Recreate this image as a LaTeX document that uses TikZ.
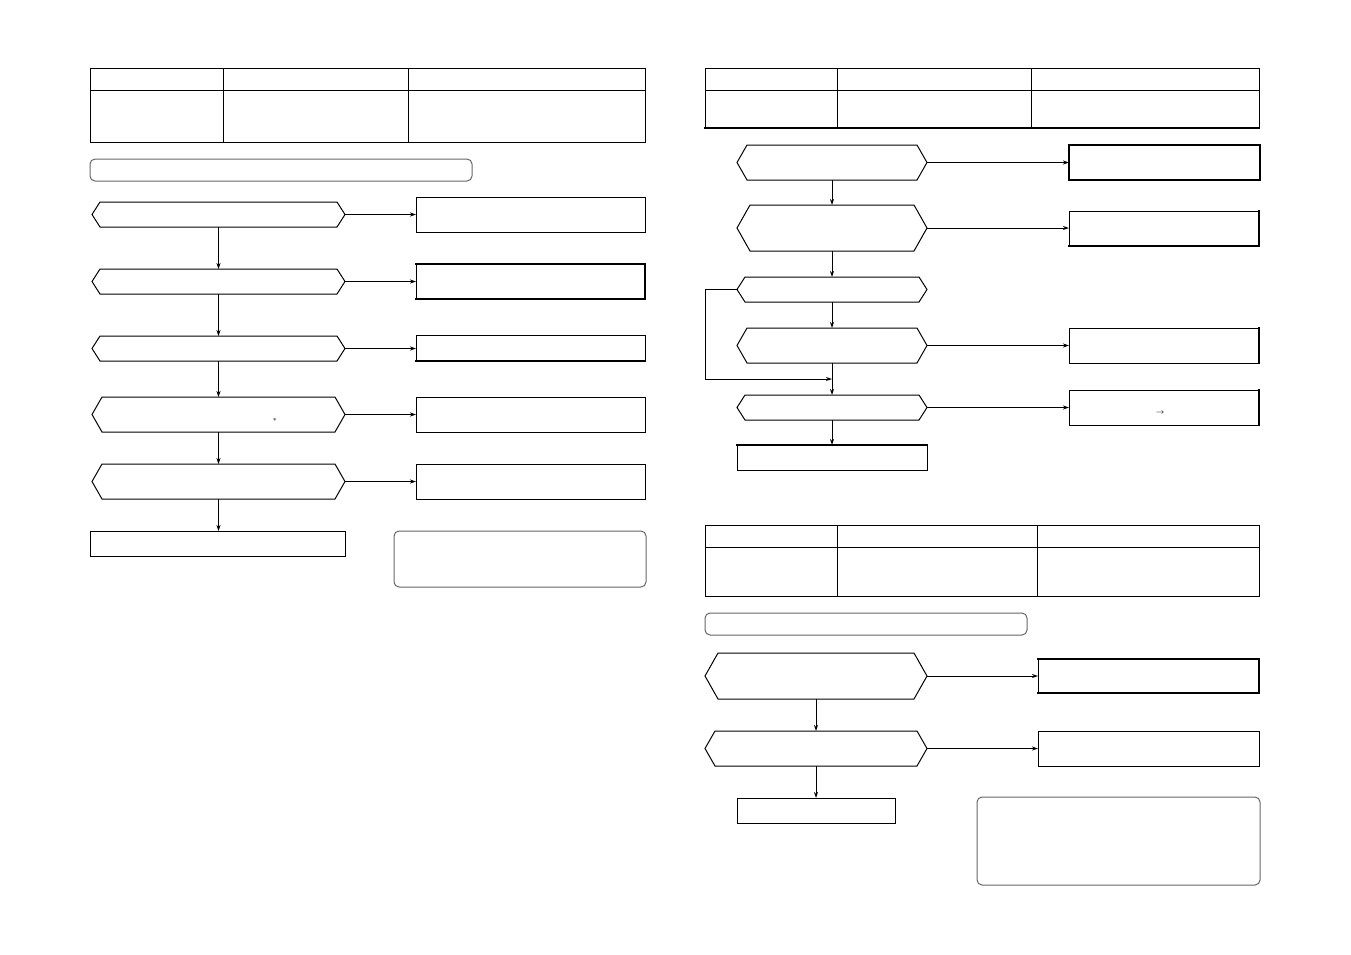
\documentclass[tikz,border=0pt]{standalone}
\usetikzlibrary{arrows.meta}
\newcommand{\rbox}[6]{\node[box,#6,minimum width={(#4-#2)*1pt},minimum height={(#5-#3)*1pt}] (#1) at ({(#2+#4)/2},{(#3+#5)/2}) {};}
\newcommand{\hexbox}[6]{%
  \node[inner sep=0pt,outer sep=0pt,minimum width={(#4-#2)*1pt},minimum height={(#5-#3)*1pt}] (#1) at ({(#2+#4)/2},{(#3+#5)/2}) {};
  \draw[ln] (#1.west) -- ([xshift=#6pt]#1.north west) -- ([xshift=-#6pt]#1.north east) -- (#1.east) -- ([xshift=-#6pt]#1.south east) -- ([xshift=#6pt]#1.south west) -- cycle;}
\begin{document}
\begin{tikzpicture}[x=1pt,y=-1pt,
  ln/.style={line width=1pt,line join=miter},
  arr/.style={line width=1pt,-{Stealth[length=6pt,width=4pt]}},
  box/.style={draw,line width=1pt,inner sep=0pt,outer sep=0pt,rectangle},
  gbox/.style={draw=black!60,line width=1pt,rounded corners=5pt,inner sep=0pt,outer sep=0pt,rectangle},
  heavy/.style={line width=1.9pt,line cap=rect}
]
\useasboundingbox (0,0) rectangle (1351,954);

% ---------------- left page ----------------
\rbox{t1}{90}{68}{645}{142}{}
\draw[ln] (t1.west |- 0,90) -- (t1.east |- 0,90);
\draw[ln] (t1.north -| 223,0) -- (t1.south -| 223,0);
\draw[ln] (t1.north -| 408,0) -- (t1.south -| 408,0);
\rbox{ttl1}{90}{159}{472}{181}{gbox}

\hexbox{h1}{92}{202}{345}{227}{8}
\hexbox{h2}{92}{269}{345}{294}{8}
\hexbox{h3}{92}{336}{345}{361}{8}
\hexbox{h4}{92}{397}{345}{432}{10}
\hexbox{h5}{92}{464}{345}{499}{10}
\rbox{e1}{90}{531}{345}{556}{}

\rbox{r1}{416}{197}{645}{232}{}
\rbox{r2}{416}{264}{645}{299}{}
\draw[heavy] (r2.north west) -- (r2.north east) -- (r2.south east) -- (r2.south west);
\rbox{r3}{416}{335}{645}{361}{}
\draw[heavy] (r3.south west) -- (r3.south east);
\rbox{r4}{416}{397}{645}{432}{}
\rbox{r5}{416}{464}{645}{499}{}
\rbox{n1}{394}{531}{646}{587}{gbox}

\node[font=\scriptsize,inner sep=0pt] (star) at (275,419.5) {$\ast$};

\draw[arr] (h1.south) -- (h2.north);
\draw[arr] (h2.south) -- (h3.north);
\draw[arr] (h3.south) -- (h4.north);
\draw[arr] (h4.south) -- (h5.north);
\draw[arr] (h5.south) -- (h5.south |- e1.north);
\draw[arr] (h1.east) -- (h1.east -| r1.west);
\draw[arr] (h2.east) -- (h2.east -| r2.west);
\draw[arr] (h3.east) -- (h3.east -| r3.west);
\draw[arr] (h4.east) -- (h4.east -| r4.west);
\draw[arr] (h5.east) -- (h5.east -| r5.west);

% ---------------- right page, top ----------------
\rbox{t2}{705}{68}{1259}{128}{}
\draw[heavy] (t2.south west) -- (t2.south east);
\draw[ln] (t2.west |- 0,90) -- (t2.east |- 0,90);
\draw[ln] (t2.north -| 837,0) -- (t2.south -| 837,0);
\draw[ln] (t2.north -| 1031,0) -- (t2.south -| 1031,0);

\hexbox{a1}{737}{145}{927}{180}{10}
\hexbox{a2}{737}{205}{927}{251}{13}
\hexbox{a3}{737}{277}{927}{302}{8}
\hexbox{a4}{737}{328}{927}{363}{10}
\hexbox{a5}{737}{395}{927}{420}{8}
\rbox{ea}{737}{445}{927}{470}{}
\draw[heavy] (ea.north west) -- (ea.north east);

\rbox{ra1}{1069}{145}{1260}{180}{}
\draw[heavy] (ra1.north west) rectangle (ra1.south east);
\rbox{ra2}{1069}{211}{1259}{246}{}
\draw[heavy] (ra2.north east) -- (ra2.south east) -- (ra2.south west);
\rbox{ra4}{1069}{328}{1259}{363}{}
\draw[heavy] (ra4.north east) -- (ra4.south east);
\rbox{ra5}{1069}{390}{1259}{425}{}
\draw[heavy] (ra5.north east) -- (ra5.south east);
\node[font=\footnotesize,inner sep=0pt] (rarr) at (1160,413) {$\rightarrow$};

\coordinate (merge) at (832,379);
\coordinate (bpc) at (705,379);
\draw[arr] (a1.south) -- (a2.north);
\draw[arr] (a2.south) -- (a3.north);
\draw[arr] (a3.south) -- (a4.north);
\draw[arr] (a4.south) -- (a5.north);
\draw[arr] (a5.south) -- (ea.north);
\draw[arr] (a3.west) -| (bpc) -- (merge);
\draw[arr] (a1.east) -- (a1.east -| ra1.west);
\draw[arr] (a2.east) -- (a2.east -| ra2.west);
\draw[arr] (a4.east) -- (a4.east -| ra4.west);
\draw[arr] (a5.east) -- (a5.east -| ra5.west);

% ---------------- right page, bottom ----------------
\rbox{t3}{705}{525}{1259}{596}{}
\draw[ln] (t3.west |- 0,547) -- (t3.east |- 0,547);
\draw[ln] (t3.north -| 837,0) -- (t3.south -| 837,0);
\draw[ln] (t3.north -| 1037,0) -- (t3.south -| 1037,0);
\rbox{ttl3}{705}{613}{1027}{635}{gbox}

\hexbox{b1}{705}{653}{927}{699}{13}
\hexbox{b2}{705}{731}{927}{766}{10}
\rbox{eb}{737}{798}{895}{823}{}
\rbox{rb1}{1038}{659}{1259}{693}{}
\draw[heavy] (rb1.north west) -- (rb1.north east) -- (rb1.south east) -- (rb1.south west);
\rbox{rb2}{1038}{731}{1259}{766}{}
\rbox{n3}{977}{797}{1260}{885}{gbox}

\draw[arr] (b1.south) -- (b2.north);
\draw[arr] (b2.south) -- (eb.north);
\draw[arr] (b1.east) -- (b1.east -| rb1.west);
\draw[arr] (b2.east) -- (b2.east -| rb2.west);
\end{tikzpicture}
\end{document}
